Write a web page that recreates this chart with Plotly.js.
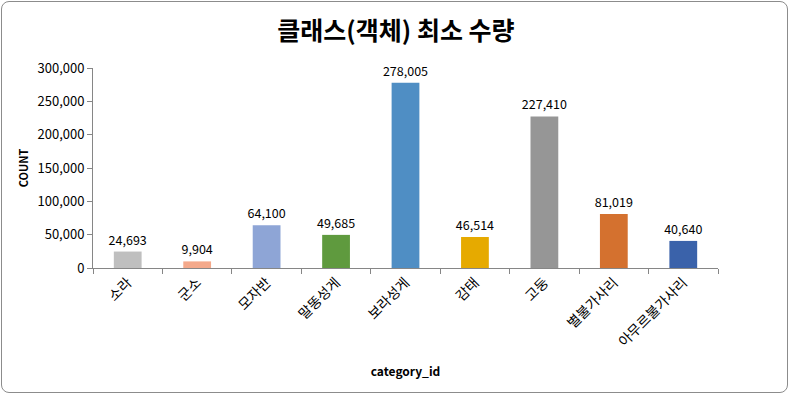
<!DOCTYPE html>
<html>
<head>
<meta charset="utf-8">
<script src="https://cdn.plot.ly/plotly-3.0.1.min.js"></script>
<style>
html,body{margin:0;padding:0;background:#fff;}
#wrap{position:relative;width:792px;height:396px;}
#frame{position:absolute;left:1px;top:1px;width:787px;height:392px;border:1px solid #8c8c8c;border-radius:8px;pointer-events:none;box-sizing:border-box;}
#chart{width:792px;height:396px;}
</style>
</head>
<body>
<div id="wrap"><div id="chart"></div><div id="frame"></div></div>
<script>
const categories = ["소라","군소","모자반","말똥성게","보라성게","감태","고둥","별불가사리","아무르불가사리"];
const counts = [24693, 9904, 64100, 49685, 278005, 46514, 227410, 81019, 40640];
const barColors = ["#BFBFBF","#F4A98B","#8EA5D6","#5F9A3E","#4F8EC4","#E6AA00","#969696","#D4712F","#3A62AA"];
const yTickVals = [0,50000,100000,150000,200000,250000,300000];

const font = "'Noto Sans CJK KR', 'Noto Sans', sans-serif";

Plotly.newPlot('chart', [{
  type: 'bar',
  x: categories,
  y: counts,
  marker: {color: barColors},
  text: counts.map(v => v.toLocaleString('en-US')),
  textposition: 'outside',
  constraintext: 'none',
  cliponaxis: false,
  textfont: {family: font, size: 12.5, color: '#000'},
  hoverinfo: 'x+y'
}], {
  width: 792, height: 396,
  margin: {l: 93, r: 74, t: 68, b: 128},
  paper_bgcolor: 'rgba(0,0,0,0)',
  plot_bgcolor: 'rgba(0,0,0,0)',
  bargap: 0.6,
  showlegend: false,
  title: {text: '<b>클래스(객체) 최소 수량</b>', font: {family: font, size: 25, color: '#000'}, x: 0.5, xanchor: 'center', y: 0.92, yanchor: 'middle'},
  xaxis: {
    type: 'category',
    tickangle: -45,
    tickson: 'boundaries',
    ticks: 'outside', ticklen: 5, tickcolor: '#868686',
    showline: true, linecolor: '#868686', linewidth: 1,
    showgrid: false,
    tickfont: {family: font, size: 14, color: '#000'},
    title: {text: '<b>category_id</b>', font: {family: font, size: 12, color: '#000'}, standoff: 18}
  },
  yaxis: {
    range: [0, 300000],
    tickvals: yTickVals,
    ticktext: yTickVals.map(v => v.toLocaleString('en-US')),
    ticks: 'outside', ticklen: 5, tickcolor: '#868686',
    showline: true, linecolor: '#868686', linewidth: 1,
    showgrid: false, zeroline: false,
    tickfont: {family: font, size: 13, color: '#000'},
    title: {text: '<b>COUNT</b>', font: {family: font, size: 11, color: '#000'}, standoff: 6}
  }
}, {displayModeBar: false, staticPlot: true});
</script>
</body>
</html>
